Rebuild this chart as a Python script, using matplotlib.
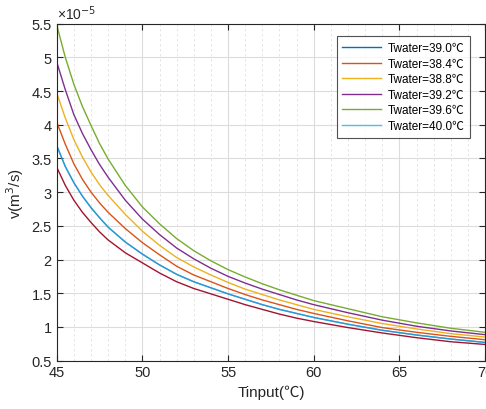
import numpy as np
import matplotlib
matplotlib.use("Agg")
import matplotlib.pyplot as plt
from matplotlib.ticker import MultipleLocator

plt.rcParams['font.family'] = ['Liberation Sans', 'Noto Sans CJK SC', 'DejaVu Sans']

tin = [45, 45.5, 46, 46.5, 47, 47.5, 48, 49, 50, 51, 52, 53, 54, 55, 56, 57, 58, 59,
       60, 62, 64, 66, 68, 70]

# flow rate, units of 1e-5 m^3/s
v_blue = [3.69, 3.38, 3.14, 2.94, 2.77, 2.62, 2.48, 2.26, 2.08, 1.92, 1.78, 1.67, 1.58,
          1.49, 1.41, 1.33, 1.26, 1.20, 1.14, 1.04, 0.95, 0.88, 0.82, 0.77]
v_orange = [4.04, 3.71, 3.42, 3.19, 3.00, 2.84, 2.70, 2.46, 2.25, 2.07, 1.90, 1.77, 1.67,
            1.57, 1.48, 1.40, 1.33, 1.26, 1.20, 1.09, 0.99, 0.92, 0.86, 0.81]
v_yellow = [4.47, 4.10, 3.78, 3.52, 3.30, 3.11, 2.95, 2.67, 2.42, 2.21, 2.03, 1.89, 1.77,
            1.66, 1.56, 1.48, 1.40, 1.33, 1.26, 1.15, 1.05, 0.97, 0.90, 0.85]
v_purple = [4.93, 4.52, 4.15, 3.87, 3.63, 3.41, 3.22, 2.88, 2.60, 2.37, 2.17, 2.01, 1.87,
            1.75, 1.65, 1.56, 1.48, 1.40, 1.33, 1.21, 1.10, 1.01, 0.94, 0.885]
v_green = [5.48, 5.00, 4.60, 4.27, 3.99, 3.72, 3.49, 3.10, 2.78, 2.53, 2.31, 2.13, 1.98,
           1.85, 1.74, 1.64, 1.55, 1.47, 1.39, 1.27, 1.15, 1.06, 0.98, 0.92]
v_lblue = v_blue  # hidden under the blue curve in the original
v_dred = [3.37, 3.10, 2.88, 2.70, 2.55, 2.41, 2.29, 2.10, 1.95, 1.80, 1.67, 1.57, 1.49,
          1.41, 1.33, 1.26, 1.19, 1.13, 1.08, 0.99, 0.91, 0.84, 0.78, 0.74]

labels = ['Twater=39.0℃', 'Twater=38.4℃', 'Twater=38.8℃',
          'Twater=39.2℃', 'Twater=39.6℃', 'Twater=40.0℃']

series = [v_blue, v_orange, v_yellow, v_purple, v_green, v_lblue, v_dred]
colors = ['#0072BD', '#D95319', '#EDB120', '#7E2F8E', '#77AC30', '#4DBEEE', '#A2142F']

fig = plt.figure(figsize=(4.86, 4.10), dpi=100)
ax = fig.add_axes([0.1167, 0.118, 0.8815, 0.822])

lines = []
for i, (vals, c) in enumerate(zip(series, colors)):
    alpha = 0.5 if i == 5 else 1.0
    ln, = ax.plot(tin, vals, color=c, lw=1.0, alpha=alpha)
    lines.append(ln)

ax.set_xlim(45, 70)
ax.set_ylim(0.5, 5.5)
ax.xaxis.set_major_locator(MultipleLocator(5))
ax.xaxis.set_minor_locator(MultipleLocator(1))
ax.yaxis.set_major_locator(MultipleLocator(0.5))
ax.set_yticklabels([f"{t:g}" for t in ax.get_yticks()])

ax.grid(True, which='major', color='#dcdcdc', lw=0.8)
ax.grid(True, which='minor', axis='x', color='#e2e2e2', lw=0.6, ls=(0, (3, 3)))
ax.set_axisbelow(True)

for s in ax.spines.values():
    s.set_color('#262626')
    s.set_linewidth(0.8)
ax.tick_params(which='both', direction='in', top=True, right=True,
               colors='#262626', labelsize=10.5, labelcolor='#262626')
ax.tick_params(which='major', length=4)
ax.tick_params(which='minor', length=0)

ax.set_xlabel('Tinput(℃)', fontsize=11, color='#262626', labelpad=4)
ax.set_ylabel('v(m$^3$/s)', fontsize=11, color='#262626', labelpad=4)
ax.text(0.0, 1.006, '×10$^{-5}$', transform=ax.transAxes, fontsize=10,
        color='#262626', ha='left', va='bottom')

leg_lines = [lines[0], lines[1], lines[2], lines[3], lines[4],
             plt.Line2D([], [], color=colors[5], lw=1.0)]
leg = ax.legend(leg_lines, labels, loc='upper right', bbox_to_anchor=(0.965, 0.962),
                fontsize=8.5, handlelength=3.3, handletextpad=0.5, labelspacing=0.3,
                frameon=True, fancybox=False, borderpad=0.5, borderaxespad=0)
leg.get_frame().set_edgecolor('#262626')
leg.get_frame().set_linewidth(0.8)

fig.savefig('out.png', dpi=100)
